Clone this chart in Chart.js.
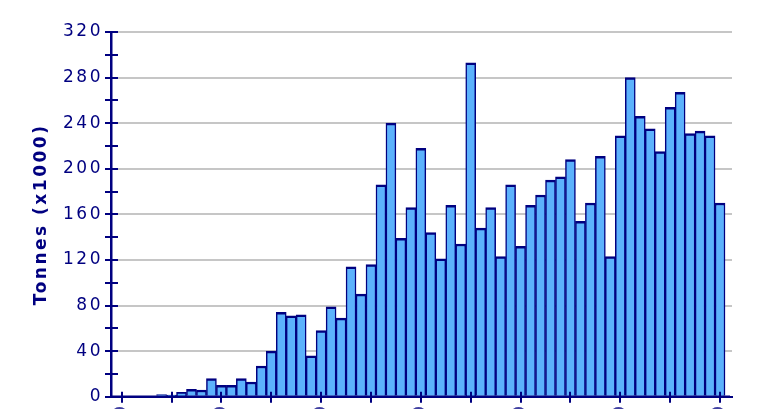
<!DOCTYPE html>
<html>
<head>
<meta charset="utf-8">
<title>Tonnes (x1000)</title>
<script src="https://cdn.jsdelivr.net/npm/chart.js@4.4.1/dist/chart.umd.min.js"></script>
<style>
    html, body { margin: 0; padding: 0; background: #fff; overflow: hidden; }
    #chart { display: block; }
</style>
</head>
<body>
<canvas id="chart" width="770" height="410"></canvas>
<script>
// DATA
const years = [
    1950, 1951, 1952, 1953, 1954, 1955, 1956, 1957, 1958, 1959,
    1960, 1961, 1962, 1963, 1964, 1965, 1966, 1967, 1968, 1969,
    1970, 1971, 1972, 1973, 1974, 1975, 1976, 1977, 1978, 1979,
    1980, 1981, 1982, 1983, 1984, 1985, 1986, 1987, 1988, 1989,
    1990, 1991, 1992, 1993, 1994, 1995, 1996, 1997, 1998, 1999,
    2000, 2001, 2002, 2003, 2004, 2005, 2006, 2007, 2008, 2009,
    2010
];
const tonnes = [
    0, 0, 0, 0, 2, 1.5, 4, 6.5, 6, 16,
    10, 10, 16, 13, 27, 40, 74, 71, 72, 36,
    58, 79, 69, 114, 90, 116, 186, 240, 139, 166,
    218, 144, 121, 168, 134, 293, 148, 166, 123, 186,
    132, 168, 177, 190, 193, 208, 154, 170, 211, 123,
    229, 280, 246, 235, 215, 254, 267, 231, 233, 229,
    170
];
const yLabels = [0, 40, 80, 120, 160, 200, 240, 280, 320];
const xTickYears = [1950, 1955, 1960, 1965, 1970, 1975, 1980, 1985, 1990, 1995, 2000, 2005, 2010];
const xLabels = [1950, 1960, 1970, 1980, 1990, 2000, 2010];

const NAVY = '#000080';
const FONT = { family: '"DejaVu Sans", Verdana, sans-serif', size: 17 };

// ticks that cross the axis lines, drawn over the bars
const axisCrosses = {
    id: 'axisCrosses',
    beforeDraw(chart) {
        chart.ctx.letterSpacing = '2.5px';
    },
    afterDatasetsDraw(chart) {
        const { ctx, chartArea, scales: { x, y } } = chart;
        ctx.save();
        ctx.strokeStyle = NAVY;
        ctx.lineWidth = 2.5;
        ctx.beginPath();
        ctx.moveTo(chartArea.left, chartArea.bottom);
        ctx.lineTo(chartArea.right - 2, chartArea.bottom);
        ctx.stroke();
        ctx.lineWidth = 2;
        ctx.beginPath();
        y.ticks.forEach(t => {
            const py = Math.round(y.getPixelForValue(t.value));
            ctx.moveTo(chartArea.left - 6, py);
            ctx.lineTo(chartArea.left + 7, py);
        });
        x.ticks.forEach(t => {
            const px = Math.round(x.getPixelForValue(t.value));
            ctx.moveTo(px, chartArea.bottom - 5);
            ctx.lineTo(px, chartArea.bottom + 6);
        });
        ctx.stroke();
        ctx.restore();
    }
};

new Chart(document.getElementById('chart').getContext('2d'), {
    type: 'bar',
    data: {
        datasets: [{
            data: years.map((yr, i) => ({ x: yr, y: tonnes[i] })),
            backgroundColor: '#5cb2fc',
            borderColor: NAVY,
            borderWidth: { top: 2.5, left: 1.5, right: 1.5, bottom: 0 },
            borderSkipped: 'start',
            barPercentage: 1,
            categoryPercentage: 1
        }]
    },
    options: {
        responsive: false,
        animation: false,
        devicePixelRatio: 1,
        layout: { padding: { top: 32, right: 38, bottom: 0, left: 0 } },
        plugins: { legend: { display: false }, tooltip: { enabled: false } },
        scales: {
            x: {
                type: 'linear',
                min: 1948.93,
                max: 2011.2,
                offset: false,
                afterBuildTicks: s => { s.ticks = xTickYears.map(v => ({ value: v })); },
                afterFit: s => { s.height = 12; },
                grid: { drawOnChartArea: false, tickLength: 5, tickColor: 'rgba(0,0,0,0)' },
                border: { color: NAVY, width: 2 },
                ticks: {
                    autoSkip: false,
                    minRotation: 90,
                    maxRotation: 90,
                    padding: 2,
                    color: NAVY,
                    font: FONT,
                    callback: v => xLabels.includes(v) ? String(v) : ''
                }
            },
            y: {
                min: 0,
                max: 320,
                afterFit: s => { s.width = 111; },
                grid: {
                    color: c => (c.tick && c.tick.value > 0 && yLabels.includes(c.tick.value)) ? '#c6c6c6' : 'rgba(0,0,0,0)',
                    lineWidth: 2,
                    tickLength: 5,
                    tickColor: 'rgba(0,0,0,0)'
                },
                border: { color: NAVY, width: 2.5 },
                ticks: {
                    stepSize: 20,
                    padding: 3,
                    color: NAVY,
                    font: FONT,
                    callback: v => yLabels.includes(v) ? String(v) : ''
                },
                title: {
                    display: true,
                    text: 'Tonnes (x1000)',
                    color: NAVY,
                    font: { family: FONT.family, size: 17, weight: 'bold' },
                    padding: { top: 31, bottom: 0 }
                }
            }
        }
    },
    plugins: [axisCrosses]
});
</script>
</body>
</html>
